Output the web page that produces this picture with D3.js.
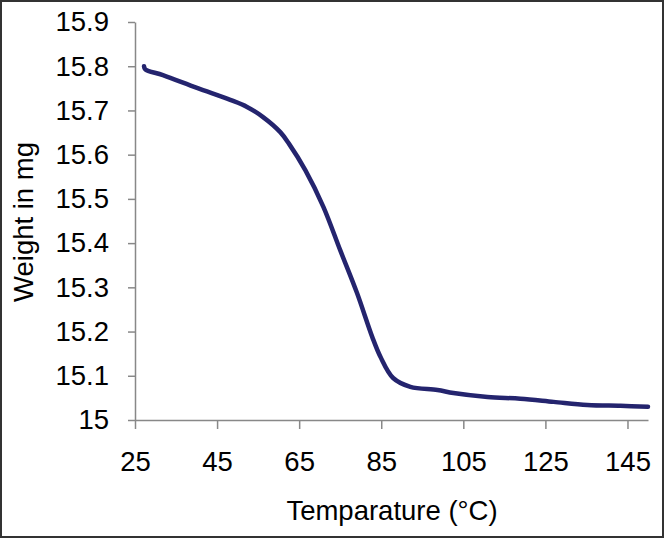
<!DOCTYPE html>
<html><head><meta charset="utf-8">
<script src="https://cdn.jsdelivr.net/npm/d3@7"></script>
<style>
html,body{margin:0;padding:0;background:#fff;}
svg{display:block;}
text{font-family:"Liberation Sans",Arial,sans-serif;fill:#000;}
</style></head>
<body>
<svg id="chart" width="664" height="538"></svg>
<script>
const temperature = [27.2, 27.5, 31.8, 40.1, 48.2, 52.3, 56.2, 60.4, 62.5, 66.5, 70.9, 75.0, 79.1, 82.8, 84.8, 87.9, 92.1, 98.7, 102.6, 110.9, 118.9, 127.0, 135.2, 143.3, 150.0];
const weight = [15.800, 15.793, 15.780, 15.751, 15.724, 15.708, 15.685, 15.651, 15.625, 15.565, 15.482, 15.384, 15.287, 15.188, 15.143, 15.095, 15.075, 15.068, 15.061, 15.052, 15.048, 15.041, 15.034, 15.032, 15.030];
const xTicks = [25, 45, 65, 85, 105, 125, 145];
const yTicks = [15, 15.1, 15.2, 15.3, 15.4, 15.5, 15.6, 15.7, 15.8, 15.9];
const xTitle = "Temparature (°C)";
const yTitle = "Weight in mg";

const svg = d3.select("#chart");
const W = 664, H = 538;
svg.append("rect").attr("x",1).attr("y",1).attr("width",W-2).attr("height",H-2)
  .attr("fill","#fff").attr("stroke","#333").attr("stroke-width",2);

const x = d3.scaleLinear().domain([25,150]).range([135,648]);
const y = d3.scaleLinear().domain([15,15.9]).range([420,22]);

const axisColor = "#888";
const fs = 27.5;
const xAxis = svg.append("g").attr("transform","translate(0,420)")
  .call(d3.axisBottom(x).tickValues(xTicks).tickSize(9).tickPadding(22).tickSizeOuter(0).tickFormat(d3.format("d")));
const yAxis = svg.append("g").attr("transform","translate(135,0)")
  .call(d3.axisLeft(y).tickValues(yTicks).tickSize(7).tickPadding(19).tickSizeOuter(0).tickFormat(d => d===15 ? "15" : d3.format(".1f")(d)));
[xAxis,yAxis].forEach(g=>{
  g.select(".domain").attr("stroke",axisColor).attr("stroke-width",1.5);
  g.selectAll(".tick line").attr("stroke",axisColor).attr("stroke-width",1.5);
  g.selectAll(".tick text").attr("font-size",fs).attr("font-family","Liberation Sans, Arial, sans-serif").attr("fill","#000");
});

const pts = temperature.map((t,i)=>[t,weight[i]]);
svg.append("path").datum(pts)
  .attr("fill","none").attr("stroke","#24246e").attr("stroke-width",4.5).attr("stroke-linejoin","round").attr("stroke-linecap","round")
  .attr("d", d3.line().x(d=>x(d[0])).y(d=>y(d[1])).curve(d3.curveCatmullRom.alpha(0.5)));

svg.append("text").attr("x",392).attr("y",520).attr("text-anchor","middle").attr("font-size",fs).text(xTitle);
svg.append("text").attr("transform","translate(33,222) rotate(-90)").attr("text-anchor","middle").attr("font-size",fs).text(yTitle);
</script>
</body></html>
